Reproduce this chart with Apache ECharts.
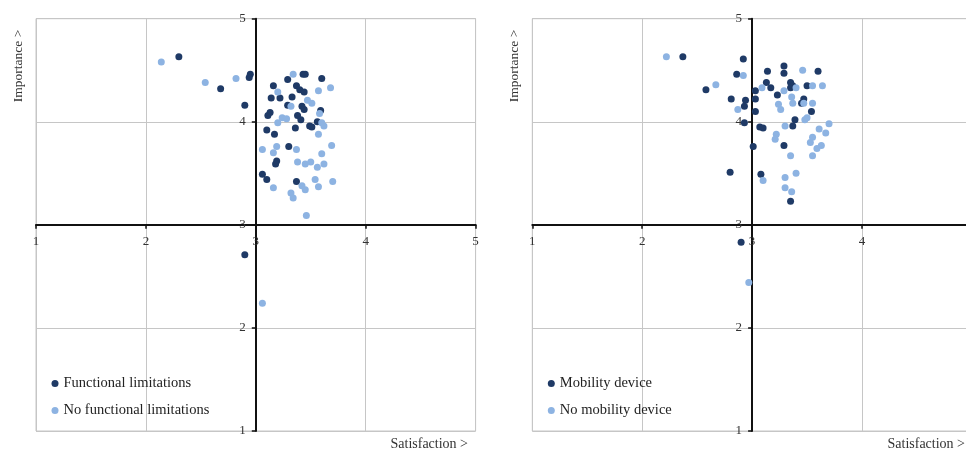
<!DOCTYPE html>
<html><head><meta charset="utf-8">
<script src="https://cdn.jsdelivr.net/npm/echarts@6/dist/echarts.min.js"></script>
<style>html,body{margin:0;padding:0;background:#fff}#c{width:966px;height:453px}</style>
</head><body><div id="c"></div>
<script>
// ---- data ----
const axisMin = 1, axisMax = 5, axisCross = 3;
const xName = 'Satisfaction >';
const yName = 'Importance >';
const leftNames = ['Functional limitations', 'No functional limitations'];
const rightNames = ['Mobility device', 'No mobility device'];

const funcLim = [[2.30,4.63],[2.68,4.32],[2.95,4.46],[2.94,4.43],[2.90,4.16],[3.43,4.46],[3.45,4.46],[3.29,4.41],[3.60,4.42],[3.16,4.35],[3.37,4.35],[3.40,4.31],[3.44,4.29],[3.14,4.23],[3.22,4.23],[3.33,4.24],[3.29,4.16],[3.42,4.15],[3.44,4.12],[3.59,4.11],[3.13,4.09],[3.11,4.06],[3.38,4.06],[3.41,4.02],[3.56,4.00],[3.49,3.96],[3.51,3.95],[3.36,3.94],[3.10,3.92],[3.17,3.88],[3.30,3.76],[3.19,3.62],[3.18,3.59],[3.06,3.49],[3.10,3.44],[3.37,3.42],[2.90,2.71]];
const noFuncLim = [[2.14,4.58],[2.54,4.38],[2.82,4.42],[3.34,4.46],[3.20,4.29],[3.68,4.33],[3.57,4.30],[3.47,4.21],[3.51,4.18],[3.32,4.15],[3.58,4.08],[3.24,4.04],[3.28,4.03],[3.20,3.99],[3.60,3.99],[3.62,3.96],[3.57,3.88],[3.06,3.73],[3.19,3.76],[3.16,3.70],[3.37,3.73],[3.69,3.77],[3.60,3.69],[3.38,3.61],[3.45,3.59],[3.50,3.61],[3.56,3.56],[3.62,3.59],[3.54,3.44],[3.70,3.42],[3.16,3.36],[3.42,3.38],[3.45,3.34],[3.57,3.37],[3.32,3.31],[3.34,3.26],[3.46,3.09],[3.06,2.24]];
const mobDev = [[2.37,4.63],[2.92,4.61],[2.86,4.46],[2.58,4.31],[2.81,4.22],[2.94,4.21],[2.93,4.15],[3.03,4.30],[3.03,4.22],[3.03,4.10],[2.93,3.99],[3.14,4.49],[3.13,4.38],[3.17,4.33],[3.23,4.26],[3.29,4.54],[3.29,4.47],[3.35,4.38],[3.35,4.33],[3.37,4.35],[3.50,4.35],[3.60,4.49],[3.47,4.22],[3.45,4.18],[3.54,4.10],[3.39,4.02],[3.37,3.96],[3.07,3.95],[3.10,3.94],[3.01,3.76],[3.29,3.77],[2.80,3.51],[3.08,3.49],[3.35,3.23],[2.90,2.83]];
const noMobDev = [[2.22,4.63],[2.67,4.36],[2.92,4.45],[2.87,4.12],[3.09,4.33],[3.46,4.50],[3.29,4.30],[3.40,4.33],[3.55,4.35],[3.64,4.35],[3.24,4.17],[3.26,4.12],[3.36,4.24],[3.37,4.18],[3.55,4.18],[3.47,4.18],[3.30,3.96],[3.48,4.02],[3.50,4.04],[3.70,3.98],[3.61,3.93],[3.67,3.89],[3.22,3.88],[3.21,3.83],[3.55,3.85],[3.53,3.80],[3.63,3.77],[3.59,3.74],[3.55,3.67],[3.35,3.67],[3.40,3.50],[3.10,3.43],[3.30,3.46],[3.30,3.36],[3.36,3.32],[2.97,2.44]];

// ---- layout ----
const DARK = '#1f3a66', LIGHT = '#8db3e2';
const FONT = "'Liberation Serif','Times New Roman',serif";
const TOP = 18.7, H = 412.3, UNITW = 109.9;
const panels = [{left: 36, names: leftNames, a: funcLim, b: noFuncLim, xNameRight: 468},
                {left: 532.3, names: rightNames, a: mobDev, b: noMobDev, xNameRight: 965}];
const W = UNITW * (axisMax - axisMin);
const crossFrac = (axisCross - axisMin) / (axisMax - axisMin);

const grid = [], xAxis = [], yAxis = [], series = [], legend = [], graphic = [];
const hiddenAxis = {min: axisMin, max: axisMax, show: false};
panels.forEach((p, i) => {
  const g0 = grid.length;
  // main grid: gridlines
  grid.push({left: p.left, top: TOP, width: W, height: H, show: true, borderColor: '#c6c6c6', borderWidth: 1,
    outerBoundsMode: 'none', containLabel: false});
  xAxis.push({gridIndex: g0, type: 'value', min: axisMin, max: axisMax, interval: 1,
    axisLine: {show: false}, axisTick: {show: false}, axisLabel: {show: false},
    splitLine: {show: true, lineStyle: {color: '#c6c6c6', width: 1}}});
  yAxis.push({gridIndex: g0, type: 'value', min: axisMin, max: axisMax, interval: 1,
    axisLine: {show: false}, axisTick: {show: false}, axisLabel: {show: false},
    splitLine: {show: true, lineStyle: {color: '#c6c6c6', width: 1}}});
  // x axis crossing at y=3
  grid.push({left: p.left, top: TOP, width: W, height: H * (1 - crossFrac), outerBoundsMode: 'none', containLabel: false});
  xAxis.push({gridIndex: g0 + 1, type: 'value', min: axisMin, max: axisMax, interval: 1, position: 'bottom',
    axisLine: {show: true, lineStyle: {color: '#111', width: 2}},
    axisTick: {show: true, length: 4, lineStyle: {color: '#111', width: 1.5}},
    axisLabel: {show: true, margin: 10, color: '#333', fontFamily: FONT, fontSize: 13},
    splitLine: {show: false}});
  yAxis.push(Object.assign({gridIndex: g0 + 1}, hiddenAxis));
  // y axis crossing at x=3
  grid.push({left: p.left + W * crossFrac, top: TOP, width: W * (1 - crossFrac), height: H, outerBoundsMode: 'none', containLabel: false});
  xAxis.push(Object.assign({gridIndex: g0 + 2}, hiddenAxis));
  yAxis.push({gridIndex: g0 + 2, type: 'value', min: axisMin, max: axisMax, interval: 1, position: 'left',
    axisLine: {show: true, lineStyle: {color: '#111', width: 2}},
    axisTick: {show: true, length: 4, lineStyle: {color: '#111', width: 1.5}},
    axisLabel: {show: true, margin: 10, color: '#333', fontFamily: FONT, fontSize: 13},
    splitLine: {show: false}});
  series.push({name: p.names[0], type: 'scatter', xAxisIndex: g0, yAxisIndex: g0, data: p.a,
    symbolSize: 7, itemStyle: {color: DARK, opacity: 1}, z: 5});
  series.push({name: p.names[1], type: 'scatter', xAxisIndex: g0, yAxisIndex: g0, data: p.b,
    symbolSize: 7, itemStyle: {color: LIGHT, opacity: 1}, z: 5});
  legend.push({data: p.names, orient: 'vertical', left: p.left + 15.5, top: 376, padding: 0, icon: 'circle',
    itemWidth: 7, itemHeight: 7, itemGap: 12,
    textStyle: {fontFamily: FONT, fontSize: 14.5, color: '#222', lineHeight: 14}});
  graphic.push({type: 'text', left: p.left - 25, top: TOP + 11, rotation: Math.PI / 2,
    style: {text: yName, font: '13.5px ' + FONT, fill: '#333'}});
  graphic.push({type: 'text', right: 966 - p.xNameRight, top: 437,
    style: {text: xName, font: '14px ' + FONT, fill: '#333'}});
});

const chart = echarts.init(document.getElementById('c'));
chart.setOption({animation: false, backgroundColor: '#fff', grid, xAxis, yAxis, series, legend, graphic});
</script></body></html>
